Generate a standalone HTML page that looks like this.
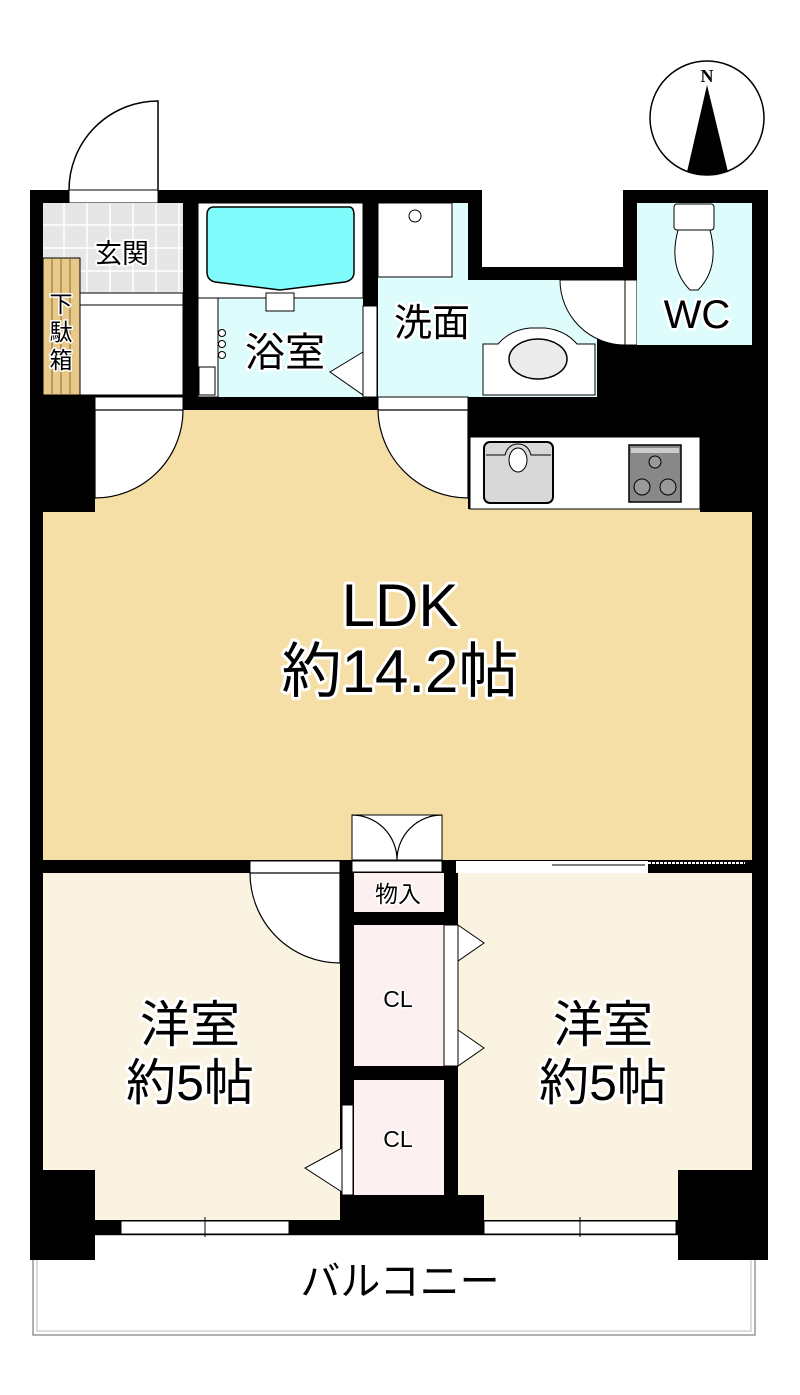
<!DOCTYPE html>
<html><head><meta charset="utf-8"><style>
html,body{margin:0;padding:0;background:#fff;}
svg{display:block;}
text{font-family:"Liberation Sans","Noto Sans CJK JP",sans-serif;paint-order:stroke;stroke:#fff;stroke-linejoin:round;fill:#000;text-anchor:middle;}
</style></head><body>
<svg width="800" height="1395" viewBox="0 0 800 1395" xmlns="http://www.w3.org/2000/svg">
<!-- compass -->
<circle cx="707" cy="118" r="57" fill="#fff" stroke="#000" stroke-width="1.5"/>
<polygon points="707,85 687,172 728,172" fill="#000"/>
<path d="M687,172 Q707,177 728,172 Z" fill="#000"/>
<text x="707" y="82" style="font-family:'Liberation Serif',serif;font-weight:bold;font-size:18px;stroke-width:0">N</text>

<!-- entrance door outside -->
<path d="M158,190 L158,101 A89,89 0 0 0 69,190" fill="#fff" stroke="#000" stroke-width="1.5"/>

<!-- balcony -->
<rect x="33" y="1235" width="722" height="100" fill="#fff" stroke="#999" stroke-width="1.5"/>
<rect x="37" y="1235" width="714" height="96" fill="none" stroke="#bbb" stroke-width="1"/>

<!-- overall black building mass -->
<rect x="30" y="190" width="738" height="1045" fill="#000"/>
<rect x="30" y="1170" width="65" height="90" fill="#000"/>
<rect x="678" y="1170" width="90" height="90" fill="#000"/>
<!-- top recess (outside) -->
<rect x="482" y="185" width="141" height="82" fill="#fff"/>
<!-- entrance door opening -->
<rect x="69" y="190" width="89" height="13" fill="#fff" stroke="#000" stroke-width="1"/>

<!-- entrance -->
<rect x="43" y="203" width="140" height="90" fill="#e6e6e6"/>
<g stroke="#fff" stroke-width="1.5">
<line x1="64" y1="203" x2="64" y2="293"/><line x1="87" y1="203" x2="87" y2="293"/><line x1="110" y1="203" x2="110" y2="293"/><line x1="133" y1="203" x2="133" y2="293"/><line x1="156" y1="203" x2="156" y2="293"/><line x1="179" y1="203" x2="179" y2="293"/>
<line x1="43" y1="225" x2="183" y2="225"/><line x1="43" y1="248" x2="183" y2="248"/><line x1="43" y1="271" x2="183" y2="271"/>
</g>
<rect x="80" y="293" width="103" height="102" fill="#fff" stroke="#000" stroke-width="1"/>
<line x1="80" y1="305" x2="183" y2="305" stroke="#000" stroke-width="1"/>
<rect x="43" y="258" width="37" height="137" fill="#e8c98a" stroke="#000" stroke-width="1"/>
<g stroke="#8a6a30" stroke-width="1"><line x1="52" y1="258" x2="52" y2="395"/><line x1="61" y1="258" x2="61" y2="395"/><line x1="70" y1="258" x2="70" y2="395"/></g>

<!-- bath -->
<rect x="198" y="203" width="165" height="194" fill="#defcfc"/>
<rect x="198" y="203" width="165" height="95" fill="#fff" stroke="#000" stroke-width="1"/>
<path d="M214,207 L350,207 Q354,208 354,215 L354,272 Q354,280 345,282 L280,290 L215,282 Q207,280 207,272 L207,215 Q207,207 214,207 Z" fill="#80fcfc" stroke="#000" stroke-width="1.5"/>
<rect x="266" y="293" width="28" height="18" fill="#fff" stroke="#000" stroke-width="1"/>
<rect x="198" y="298" width="20" height="99" fill="#fff" stroke="#000" stroke-width="1"/>
<rect x="199" y="367" width="16" height="28" fill="#fff" stroke="#000" stroke-width="1"/>
<circle cx="222" cy="333" r="3.5" fill="#fff" stroke="#000"/><circle cx="222" cy="344" r="3.5" fill="#fff" stroke="#000"/><circle cx="222" cy="355" r="3.5" fill="#fff" stroke="#000"/>
<rect x="363" y="306" width="14" height="91" fill="#fff" stroke="#000" stroke-width="1"/>
<polygon points="363,352 330,372 363,395" fill="#fff" stroke="#000" stroke-width="1"/>

<!-- washroom -->
<rect x="378" y="203" width="90" height="77" fill="#defcfc"/>
<rect x="378" y="280" width="219" height="117" fill="#defcfc"/>
<rect x="378" y="203" width="74" height="74" fill="#fff" stroke="#000" stroke-width="1"/>
<circle cx="415" cy="216" r="6" fill="#fff" stroke="#000"/>
<path d="M625,280 L560,280 A65,65 0 0 0 625,345 Z" fill="#fff" stroke="#000" stroke-width="1"/>
<rect x="625" y="280" width="12" height="65" fill="#fff" stroke="#000" stroke-width="1"/>
<path d="M483,344 L498,344 Q510,330 530,328 L545,328 Q565,330 577,344 L595,344 L595,395 L483,395 Z" fill="#fff" stroke="#000" stroke-width="1"/>
<ellipse cx="538" cy="359" rx="29" ry="20" fill="#ebebeb" stroke="#000" stroke-width="1.5"/>

<!-- WC -->
<rect x="637" y="203" width="115" height="142" fill="#defcfc"/>
<rect x="674" y="204" width="40" height="26" rx="3" fill="#fff" stroke="#000" stroke-width="1"/>
<path d="M678,230 Q668,268 690,290 L698,290 Q720,268 710,230 Z" fill="#fff" stroke="#000" stroke-width="1"/>

<!-- LDK -->
<rect x="43" y="512" width="709" height="348" fill="#f5dfa6"/>
<rect x="95" y="410" width="373" height="102" fill="#f5dfa6"/>
<rect x="468" y="509" width="232" height="4" fill="#f5dfa6"/>
<rect x="95" y="397" width="88" height="13" fill="#fff" stroke="#000" stroke-width="1"/>
<path d="M95,410 L183,410 A88,88 0 0 1 95,498 Z" fill="#fff" stroke="#000" stroke-width="1.2"/>
<rect x="378" y="397" width="90" height="13" fill="#fff" stroke="#000" stroke-width="1"/>
<path d="M468,410 L378,410 A90,90 0 0 0 468,498 Z" fill="#fff" stroke="#000" stroke-width="1.2"/>
<rect x="470" y="437" width="230" height="72" fill="#fff" stroke="#000" stroke-width="1"/>
<rect x="484" y="442" width="69" height="61" rx="6" fill="#d8d8d8" stroke="#000" stroke-width="2"/>
<path d="M486,455 L505,455 Q508,444 518,444 Q528,444 531,455 L551,455" fill="none" stroke="#000" stroke-width="1"/>
<ellipse cx="518" cy="460" rx="9" ry="12" fill="#fff" stroke="#000"/>
<rect x="629" y="445" width="52" height="57" fill="#888" stroke="#000" stroke-width="1.5"/>
<rect x="631" y="448" width="48" height="5" fill="#ccc"/>
<circle cx="655" cy="462" r="6" fill="#999" stroke="#000"/><circle cx="642" cy="487" r="8" fill="#999" stroke="#000"/><circle cx="668" cy="487" r="8" fill="#999" stroke="#000"/>

<!-- double door -->
<rect x="352" y="815" width="90" height="45" fill="#fff" stroke="#000" stroke-width="1"/>
<path d="M352,815 A45,45 0 0 1 397,860 A45,45 0 0 1 442,815" fill="none" stroke="#000" stroke-width="1.2"/>
<rect x="352" y="861" width="90" height="11" fill="#fff" stroke="#000" stroke-width="1"/>

<!-- right sliding door -->
<rect x="456" y="861" width="192" height="12" fill="#fff"/>
<rect x="648" y="866" width="97" height="7" fill="#000"/>
<line x1="552" y1="863" x2="745" y2="863" stroke="#fff" stroke-width="2" stroke-dasharray="3,1"/>
<line x1="552" y1="865" x2="645" y2="865" stroke="#000" stroke-width="1"/>

<!-- bedrooms -->
<rect x="43" y="873" width="297" height="297" fill="#faf3e2"/>
<rect x="95" y="1170" width="245" height="50" fill="#faf3e2"/>
<rect x="458" y="873" width="294" height="297" fill="#faf3e2"/>
<rect x="458" y="1170" width="220" height="25" fill="#faf3e2"/>
<rect x="484" y="1195" width="194" height="25" fill="#faf3e2"/>
<rect x="250" y="861" width="90" height="12" fill="#fff" stroke="#000" stroke-width="1"/>
<path d="M340,873 L250,873 A90,90 0 0 0 340,963 Z" fill="#fff" stroke="#000" stroke-width="1.2"/>

<!-- closets -->
<rect x="354" y="873" width="90" height="39" fill="#fcf0f0"/>
<rect x="354" y="925" width="90" height="141" fill="#fcf0f0"/>
<rect x="354" y="1080" width="90" height="115" fill="#fcf0f0"/>
<rect x="444" y="925" width="14" height="141" fill="#fff" stroke="#000" stroke-width="1"/>
<polygon points="458,925 484,943 458,961" fill="#fff" stroke="#000" stroke-width="1"/>
<polygon points="458,1030 484,1048 458,1066" fill="#fff" stroke="#000" stroke-width="1"/>
<rect x="342" y="1105" width="11" height="90" fill="#fff" stroke="#000" stroke-width="1"/>
<polygon points="342,1148 305,1168 342,1192" fill="#fff" stroke="#000" stroke-width="1"/>

<!-- windows -->
<rect x="121" y="1221" width="168" height="13" fill="#fff" stroke="#000" stroke-width="1"/>
<line x1="205" y1="1217" x2="205" y2="1237" stroke="#000"/>
<rect x="484" y="1221" width="192" height="13" fill="#fff" stroke="#000" stroke-width="1"/>
<line x1="580" y1="1217" x2="580" y2="1237" stroke="#000"/>

<!-- labels -->
<text x="122" y="263" style="font-size:27px;stroke-width:4">玄関</text>
<text x="61" y="312" style="font-size:23px;stroke-width:3">下</text>
<text x="61" y="340" style="font-size:23px;stroke-width:3">駄</text>
<text x="61" y="368" style="font-size:23px;stroke-width:3">箱</text>
<text x="285" y="366" style="font-size:40px;stroke-width:5">浴室</text>
<text x="432" y="336" style="font-size:38px;stroke-width:5">洗面</text>
<text x="697" y="328" style="font-size:40px;stroke-width:5">WC</text>
<text x="400" y="626" style="font-size:60px;stroke-width:6">LDK</text>
<text x="400" y="692" style="font-size:60px;stroke-width:6">約14.2帖</text>
<text x="190" y="1042" style="font-size:50px;stroke-width:6">洋室</text>
<text x="190" y="1100" style="font-size:50px;stroke-width:6">約5帖</text>
<text x="603" y="1042" style="font-size:50px;stroke-width:6">洋室</text>
<text x="603" y="1100" style="font-size:50px;stroke-width:6">約5帖</text>
<text x="398" y="902" style="font-size:23px;stroke-width:3">物入</text>
<text x="398" y="1007" style="font-size:23px;stroke-width:3">CL</text>
<text x="398" y="1147" style="font-size:23px;stroke-width:3">CL</text>
<text x="400" y="1295" style="font-size:40px;stroke-width:4">バルコニー</text>
</svg>
</body></html>
